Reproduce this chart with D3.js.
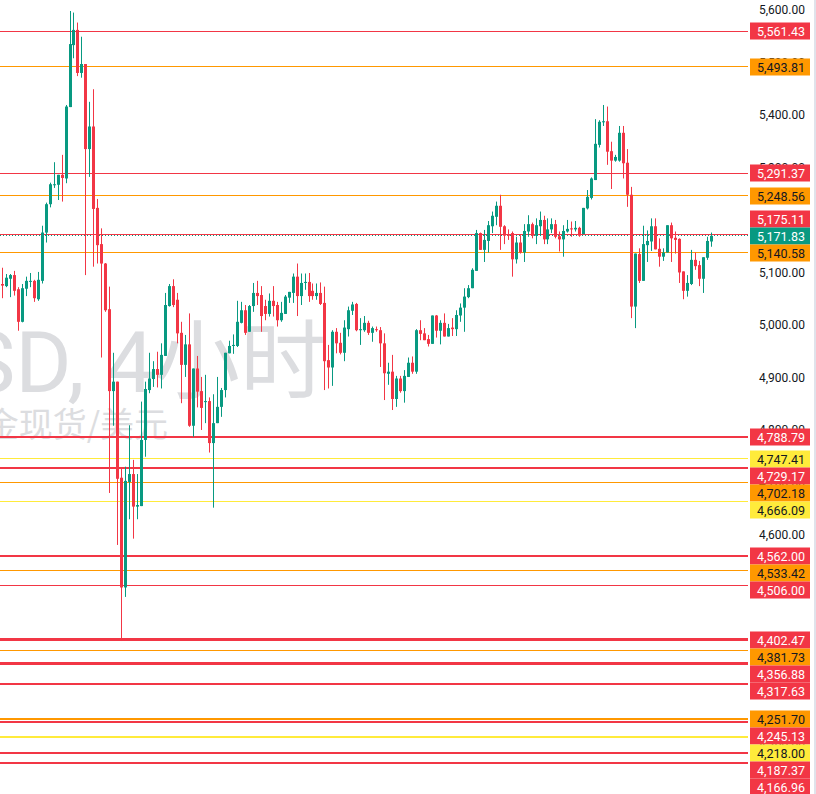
<!DOCTYPE html>
<html>
<head>
<meta charset="utf-8">
<script src="https://cdn.jsdelivr.net/npm/d3@7"></script>
<style>
  html, body { margin: 0; padding: 0; background: #fff; overflow: hidden; }
  svg { display: block; }
</style>
</head>
<body>
<div id="chart"></div>
<script>
// 4h candles, oldest first
const opens = [5080,5076,5090,5097,5070,5008,5071,5085,5086,5051,
  5086,5178,5232,5269,5269,5288,5281,5417,5535,5564,
  5482,5499,5337,5380,5225,5156,5119,5032,4876,4894,
  4711,4502,4703,4718,4656,4657,4783,4878,4899,4918,
  4907,4943,5038,5076,5050,4987,4926,4965,4810,4919,
  4876,4855,4857,4777,4815,4846,4878,4948,4962,4962,
  5006,5030,4989,5038,5063,5059,5038,5023,5048,5040,
  5011,5023,5054,5063,5094,5057,5082,5084,5067,5057,
  5063,5044,4935,4921,4989,4968,4949,4994,5029,5042,
  4992,4992,5006,4987,4994,4992,4967,4909,4913,4861,
  4900,4876,4903,4930,4913,4992,4986,4975,4966,5020,
  4991,5006,4980,4997,4994,5020,5035,5055,5072,5105,
  5177,5145,5162,5190,5208,5229,5190,5175,5177,5127,
  5159,5140,5180,5194,5172,5190,5202,5165,5184,5194,
  5171,5165,5180,5186,5184,5187,5175,5224,5244,5278,
  5345,5388,5390,5333,5315,5315,5368,5311,5250,5037,
  5137,5086,5154,5161,5190,5147,5132,5140,5192,5168,
  5166,5104,5067,5080,5126,5116,5090,5130,5161];

const highs = [5111,5099,5099,5105,5074,5080,5094,5101,5088,5103,
  5191,5235,5273,5312,5288,5326,5421,5600,5597,5578,
  5551,5499,5427,5451,5242,5186,5120,5075,4949,4894,
  4729,4732,4811,4745,4718,4856,4894,4949,4933,4951,
  4967,5063,5080,5089,5063,5008,4983,5024,4919,4943,
  4903,4907,4864,4870,4903,4882,4949,4972,4984,5048,
  5046,5040,5040,5082,5086,5076,5050,5062,5076,5046,
  5046,5059,5065,5100,5119,5100,5100,5101,5081,5081,
  5083,5075,4964,4992,4996,4987,5011,5037,5046,5044,
  5015,5019,5010,4999,4999,4998,4986,4930,4945,4905,
  4905,4916,4940,4942,4994,5011,4996,4983,5020,5021,
  5011,5024,5004,5015,5030,5043,5072,5078,5110,5183,
  5178,5183,5200,5218,5237,5250,5192,5184,5180,5170,
  5173,5194,5211,5197,5205,5218,5210,5205,5205,5202,
  5180,5192,5202,5199,5200,5189,5225,5259,5283,5394,
  5392,5421,5418,5351,5326,5381,5381,5337,5265,5138,
  5148,5191,5182,5205,5205,5167,5148,5192,5197,5180,
  5167,5104,5097,5145,5140,5124,5131,5170,5178];

const lows = [5053,5074,5055,5058,4991,5007,5057,5074,5046,5048,
  5081,5159,5226,5263,5240,5237,5272,5417,5510,5476,
  5473,5097,5284,5113,5119,4940,5027,4682,4810,4583,
  4400,4484,4632,4595,4632,4657,4751,4872,4884,4883,
  4881,4943,5037,5036,4967,4853,4903,4808,4789,4845,
  4802,4815,4759,4654,4815,4827,4864,4948,4947,4960,
  5005,4983,4989,5027,5040,4989,5011,5018,5018,4999,
  5008,5023,5044,5044,5019,5040,5069,5046,5050,5050,
  5040,4878,4881,4886,4948,4946,4933,4980,5021,4990,
  4964,4989,4983,4970,4989,4922,4859,4888,4840,4846,
  4873,4854,4903,4909,4909,4973,4973,4961,4966,4978,
  4965,4980,4980,4981,4981,5008,4989,5053,5072,5105,
  5145,5122,5140,5177,5192,5145,5156,5164,5094,5119,
  5138,5122,5170,5167,5156,5172,5156,5156,5177,5167,
  5142,5132,5178,5170,5180,5170,5175,5222,5241,5278,
  5340,5381,5307,5261,5313,5313,5281,5227,5015,4996,
  5082,5086,5122,5143,5146,5113,5124,5140,5122,5138,
  5082,5051,5056,5078,5107,5076,5063,5126,5151];

const closes = [5077,5092,5097,5067,5008,5072,5086,5086,5053,5088,
  5178,5232,5270,5270,5288,5282,5418,5537,5564,5482,
  5499,5337,5380,5223,5154,5119,5030,4876,4894,4709,
  4502,4705,4718,4656,4659,4783,4880,4900,4918,4907,
  4945,5040,5076,5040,4986,4926,4965,4810,4919,4875,
  4844,4857,4777,4815,4846,4878,4949,4962,4964,5008,
  5030,4987,5038,5063,5057,5019,5023,5048,5038,5011,
  5025,5056,5065,5094,5057,5082,5084,5057,5057,5063,
  5042,4933,4921,4989,4967,4949,4997,5030,5041,4992,
  4994,5006,4987,4996,4992,4967,4910,4913,4861,4900,
  4876,4905,4930,4913,4992,4985,4973,4966,5020,4991,
  5006,4980,4996,4994,5021,5035,5056,5072,5107,5177,
  5145,5164,5192,5210,5229,5189,5172,5172,5127,5159,
  5140,5181,5194,5172,5192,5202,5165,5184,5194,5170,
  5165,5181,5185,5184,5187,5172,5225,5246,5281,5347,
  5389,5390,5332,5315,5322,5368,5310,5250,5037,5138,
  5086,5156,5162,5190,5146,5132,5140,5192,5167,5164,
  5102,5067,5082,5126,5114,5090,5131,5162,5171.83];

const lastPrice = 5171.83;

// horizontal levels drawn on the chart
const levelPrices = [5561.43, 5493.81, 5291.37, 5248.56, 5175.11, 5140.58,
  4788.79, 4747.41, 4729.17, 4702.18, 4666.09,
  4562.00, 4533.42, 4506.00,
  4402.47, 4381.73, 4356.88, 4317.63,
  4251.70, 4245.13, 4218.00, 4187.37, 4166.96];
const levelKinds = ["red", "orange", "red", "orange", "red", "orange",
  "red", "yellow", "red", "orange", "yellow",
  "red", "orange", "red",
  "red", "orange", "red", "red",
  "orange", "red", "yellow", "red", "red"];

const priceTicks = [4200, 4300, 4400, 4500, 4600, 4700, 4800, 4900, 5000, 5100, 5200, 5300, 5400, 5500, 5600];

const watermarkTitle = "XAUUSD, 4小时";
const watermarkSub = "黄金现货/美元";

function drawChart() {
  const width = 816;
  const height = 794;
  const plotRight = 748;

  const colors = { red: "#F23645", orange: "#FF9800", yellow: "#FFEB3B", teal: "#089981" };
  const textOn = { red: "#ffffff", orange: "#131722", yellow: "#131722", teal: "#ffffff" };
  // heavier strokes for some of the drawn levels
  const heavy = { "4402.47": 3, "4356.88": 3, "4788.79": 2, "4729.17": 2, "4562": 2,
    "4317.63": 2, "4251.7": 2, "4245.13": 2, "4218": 2, "4187.37": 2, "4166.96": 2 };
  const lw = d => heavy[String(d.p)] || 1;
  // snap a horizontal stroke to whole pixels
  const snap = (v, w) => Math.round(v - w / 2) + w / 2;

  d3.select("#chart").selectAll("*").remove();

  const svg = d3.select("#chart")
    .append("svg")
    .attr("width", width)
    .attr("height", height);

  const candles = opens.map((o, i) => ({ i, o, h: highs[i], l: lows[i], c: closes[i] }));

  const x = d3.scaleBand()
    .domain(candles.map(d => d.i))
    .range([0.3, 713.3]);

  const y = d3.scaleLinear()
    .domain([4108.6, 5620.95])
    .range([height, 0]);

  const cx = i => x(i) + x.bandwidth() / 2;

  // watermark
  const wm = svg.append("g").attr("fill", "#DCDDE0");
  wm.append("text")
    .attr("x", 326)
    .attr("y", 392)
    .attr("text-anchor", "end")
    .style("font-family", "Roboto, 'Noto Sans CJK SC', sans-serif")
    .style("font-size", "86px")
    .text(watermarkTitle);
  wm.append("text")
    .attr("x", 168)
    .attr("y", 437)
    .attr("text-anchor", "end")
    .style("font-family", "'Noto Sans CJK SC', sans-serif")
    .style("font-size", "34px")
    .text(watermarkSub);

  // right price scale ticks
  svg.append("g")
    .selectAll("text")
    .data(priceTicks)
    .join("text")
    .attr("x", 805)
    .attr("y", d => y(d) - 1)
    .attr("dy", "0.35em")
    .attr("text-anchor", "end")
    .attr("fill", "#131722")
    .style("font-family", "Roboto, sans-serif")
    .style("font-size", "12px")
    .text(d => d3.format(",.2f")(d));

  svg.append("rect")
    .attr("x", 814).attr("y", 0)
    .attr("width", 2).attr("height", height)
    .attr("fill", "#E0E3EB");

  // level lines
  const levels = levelPrices.map((p, k) => ({ p, kind: levelKinds[k] }));
  svg.append("g")
    .selectAll("line")
    .data(levels)
    .join("line")
    .attr("x1", 0)
    .attr("x2", plotRight)
    .attr("y1", d => snap(y(d.p), lw(d)))
    .attr("y2", d => snap(y(d.p), lw(d)))
    .attr("stroke", d => colors[d.kind])
    .attr("stroke-width", lw)
    .attr("shape-rendering", "crispEdges");

  // last price dotted line
  svg.append("line")
    .attr("x1", 0).attr("x2", plotRight)
    .attr("y1", snap(y(lastPrice), 1)).attr("y2", snap(y(lastPrice), 1))
    .attr("stroke", colors.teal)
    .attr("stroke-width", 1)
    .attr("stroke-dasharray", "1,2")
    .attr("shape-rendering", "crispEdges");

  // candles
  const g = svg.append("g");
  g.selectAll("rect.wick")
    .data(candles)
    .join("rect")
    .attr("class", "wick")
    .attr("x", d => Math.round(cx(d.i) - 0.5))
    .attr("y", d => y(d.h))
    .attr("width", 1)
    .attr("height", d => Math.max(1, y(d.l) - y(d.h)))
    .attr("fill", d => d.c >= d.o ? colors.teal : colors.red);

  g.selectAll("rect.body")
    .data(candles)
    .join("rect")
    .attr("class", "body")
    .attr("x", d => Math.round(cx(d.i) - 1.5))
    .attr("y", d => y(Math.max(d.o, d.c)))
    .attr("width", 3)
    .attr("height", d => Math.max(1, Math.abs(y(d.o) - y(d.c))))
    .attr("fill", d => d.c >= d.o ? colors.teal : colors.red);

  // price labels, stacked so they don't overlap
  const gap = 17;
  const labels = levels.map(d => ({ p: d.p, kind: d.kind, fixed: false }))
    .concat([{ p: lastPrice, kind: "teal", fixed: true }])
    .map(d => Object.assign(d, { y: y(d.p) }))
    .sort((a, b) => a.y - b.y);
  labels.forEach(d => { d.ly = d.y; });
  const fi = labels.findIndex(d => d.fixed);
  for (let k = 1; k < fi; k++) labels[k].ly = Math.max(labels[k].y, labels[k - 1].ly + gap);
  for (let k = fi - 1; k >= 0; k--) labels[k].ly = Math.min(labels[k].ly, labels[k + 1].ly - gap);
  for (let k = fi + 1; k < labels.length; k++) labels[k].ly = Math.max(labels[k].y, labels[k - 1].ly + gap);

  const lab = svg.append("g")
    .selectAll("g")
    .data(labels)
    .join("g")
    .attr("transform", d => `translate(750,${Math.round(d.ly)})`);
  lab.append("rect")
    .attr("x", 0).attr("y", -8.5)
    .attr("width", 60).attr("height", 17)
    .attr("fill", d => colors[d.kind]);
  lab.append("text")
    .attr("x", 55)
    .attr("dy", "0.36em")
    .attr("text-anchor", "end")
    .attr("fill", d => textOn[d.kind])
    .style("font-family", "Roboto, sans-serif")
    .style("font-size", "12.5px")
    .text(d => d3.format(",.2f")(d.p));
}

drawChart();
</script>
</body>
</html>
